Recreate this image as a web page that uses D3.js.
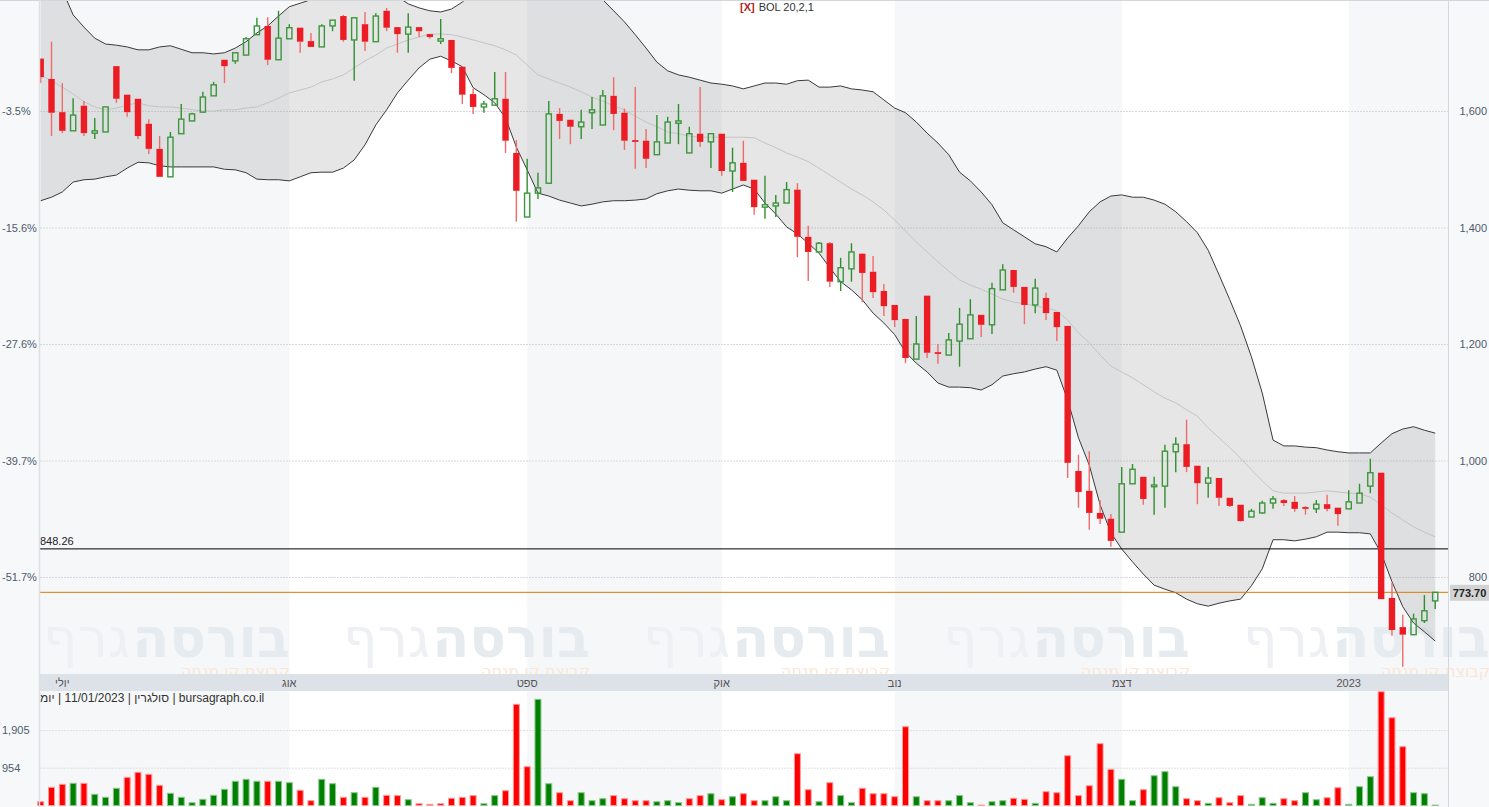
<!DOCTYPE html>
<html>
<head>
<meta charset="utf-8">
<script src="https://cdn.jsdelivr.net/npm/d3@7"></script>
<style>
  body { margin: 0; background: #fff; }
  svg { display: block; font-family: "Liberation Sans", Arial, "DejaVu Sans", sans-serif; }
</style>
</head>
<body>
<svg id="chart" width="1489" height="807"></svg>
<script>
// daily candles, 29/06/2022 .. 11/01/2023
const opens = [1690,1655,1598,1566,1609,1562,1564,1677,1628,1621,1578,1535,1487,1561,1583,1598,1626,1688,1686,1696,
  1731,1746,1688,1724,1743,1720,1710,1746,1763,1722,1749,1719,1772,1744,1732,1744,1732,1720,1722,1676,
  1629,1607,1610,1621,1528,1418,1459,1476,1595,1585,1573,1597,1576,1626,1597,1550,1549,1525,1545,1579,
  1528,1561,1547,1561,1497,1511,1482,1435,1437,1442,1465,1384,1358,1373,1307,1329,1355,1324,1291,1267,
  1243,1174,1283,1186,1181,1205,1209,1250,1233,1293,1327,1298,1267,1279,1255,1231,982,948,910,900,
  877,960,972,955,956,1015,1028,991,961,970,936,924,903,910,927,932,929,920,917,925,
  919,917,927,956,979,764,714,701,725,759];
const highs = [1690,1719,1648,1622,1617,1588,1607,1677,1628,1621,1586,1557,1564,1612,1597,1633,1650,1688,1701,1727,
  1760,1761,1772,1749,1743,1734,1749,1756,1765,1760,1770,1768,1777,1744,1768,1744,1732,1758,1722,1676,
  1638,1617,1667,1667,1550,1518,1494,1617,1605,1585,1602,1624,1636,1658,1604,1641,1569,1593,1590,1612,
  1573,1641,1561,1561,1537,1549,1482,1489,1456,1478,1476,1403,1375,1375,1348,1373,1356,1351,1303,1267,
  1243,1248,1283,1200,1219,1262,1277,1250,1305,1337,1327,1298,1312,1288,1255,1231,1010,1016,932,908,
  989,994,972,972,1027,1040,1070,991,989,970,936,924,917,931,939,934,939,922,932,941,
  919,949,960,1003,979,790,735,737,769,774];
const lows = [1648,1557,1562,1566,1557,1552,1564,1614,1590,1552,1526,1487,1487,1561,1583,1598,1626,1648,1681,1696,
  1731,1679,1688,1724,1700,1710,1710,1737,1719,1652,1703,1719,1737,1700,1700,1727,1724,1715,1665,1612,
  1595,1597,1610,1528,1410,1418,1449,1476,1552,1543,1552,1569,1576,1567,1533,1501,1502,1525,1545,1543,
  1528,1538,1502,1489,1461,1480,1422,1415,1418,1442,1349,1308,1358,1298,1291,1307,1272,1279,1248,1229,
  1167,1174,1176,1166,1181,1161,1209,1212,1217,1293,1288,1234,1253,1241,1205,970,919,881,891,852,
  877,960,924,907,919,980,980,925,936,922,920,895,903,908,917,922,912,907,910,913,
  888,917,927,944,762,699,646,701,721,745];
const closes = [1658,1597,1566,1593,1562,1566,1607,1621,1598,1557,1535,1487,1555,1586,1595,1624,1645,1677,1700,1724,
  1746,1688,1725,1743,1719,1710,1746,1756,1722,1760,1719,1763,1743,1732,1744,1737,1727,1724,1674,1628,
  1607,1612,1621,1549,1463,1459,1468,1595,1583,1573,1581,1602,1626,1595,1549,1547,1518,1547,1581,1583,
  1561,1547,1561,1497,1511,1480,1435,1439,1442,1465,1384,1358,1373,1307,1331,1358,1322,1289,1265,1241,
  1176,1200,1185,1183,1207,1234,1250,1233,1295,1327,1298,1267,1296,1253,1229,996,946,910,900,862,
  960,985,934,958,1016,1028,989,961,970,936,922,896,913,927,934,927,917,917,925,917,
  908,929,944,979,762,709,701,728,742,773.7];
const volumes = [96,459,535,560,560,283,207,434,711,838,787,510,308,207,71,156,257,409,611,661,
  611,611,611,576,384,121,661,550,207,323,207,459,257,250,146,45,30,45,182,207,
  250,45,250,374,2553,979,2679,550,323,121,323,121,172,250,172,121,121,96,121,71,
  172,250,298,146,222,298,121,121,222,121,1307,399,96,576,250,71,434,298,298,222,
  1988,222,121,121,121,250,71,10,96,121,182,156,55,349,323,1257,250,500,1560,913,
  661,121,399,752,853,474,172,121,55,197,71,250,30,197,55,172,121,323,146,197,
  449,30,474,727,2871,2215,1484,323,298,10];

// BOL 20,2,1
const bolUpper = [1876,1842,1808,1765,1744,1725,1715,1713,1710,1705,1705,1710,1712,1706,1700,1700,1698,1700,1708,1719,
  1734,1746,1763,1779,1785,1791,1801,1815,1822,1832,1830,1815,1808,1796,1784,1777,1772,1770,1775,1787,
  1804,1806,1806,1816,1846,1854,1864,1856,1849,1840,1828,1808,1791,1772,1753,1731,1708,1684,1669,1662,
  1658,1653,1648,1646,1643,1638,1643,1648,1648,1646,1652,1653,1641,1641,1643,1638,1636,1633,1619,1605,
  1597,1581,1562,1545,1525,1495,1480,1461,1439,1408,1396,1384,1372,1367,1358,1382,1403,1427,1444,1454,
  1456,1452,1452,1447,1440,1427,1410,1391,1361,1319,1276,1231,1178,1116,1035,1025,1025,1023,1022,1018,
  1015,1013,1013,1013,1030,1046,1054,1058,1052,1047];
const bolMid = [1662,1652,1641,1629,1616,1607,1602,1605,1610,1614,1609,1607,1607,1605,1602,1600,1600,1602,1602,1605,
  1607,1614,1622,1631,1636,1641,1650,1655,1662,1674,1686,1696,1708,1715,1722,1727,1732,1732,1731,1727,
  1722,1717,1712,1705,1696,1679,1662,1655,1648,1641,1633,1624,1617,1609,1602,1591,1581,1573,1564,1561,
  1557,1555,1555,1555,1555,1555,1554,1545,1537,1528,1521,1513,1502,1490,1478,1466,1456,1444,1430,1413,
  1394,1375,1358,1341,1325,1310,1301,1294,1286,1277,1272,1269,1265,1262,1257,1241,1219,1202,1181,1162,
  1152,1142,1130,1118,1107,1099,1087,1076,1056,1039,1022,1004,984,965,948,944,944,944,946,948,
  946,944,943,937,924,910,898,886,877,869];
const bolLower = [1446,1452,1461,1478,1482,1483,1487,1490,1502,1512,1511,1506,1504,1504,1504,1504,1504,1500,1499,1494,
  1483,1482,1482,1480,1487,1494,1495,1495,1502,1516,1542,1576,1602,1631,1653,1674,1689,1694,1686,1676,
  1640,1628,1614,1588,1538,1499,1459,1454,1447,1442,1437,1440,1444,1446,1446,1447,1449,1458,1463,1466,
  1464,1463,1463,1459,1466,1473,1466,1442,1423,1401,1389,1373,1356,1331,1307,1293,1276,1253,1236,1216,
  1186,1167,1152,1133,1126,1126,1125,1121,1130,1145,1149,1152,1157,1161,1155,1104,1039,992,924,876,
  848,826,805,786,779,773,762,754,750,755,759,762,785,814,864,864,862,865,869,877,
  877,876,876,874,841,792,749,721,706,690];

const monthStart = [2, 23, 45, 63, 79, 100, 121];
const monthLabels = ['יולי', 'אוג', 'ספט', 'אוק', 'נוב', 'דצמ', '2023'];
const priceTicks = [800, 1000, 1200, 1400, 1600];
const pctLabels = ['-51.7%', '-39.7%', '-27.6%', '-15.6%', '-3.5%'];
const volTicks = [954, 1905];
const levelLine = 848.26;
const lastPrice = 773.70;

const left = 40, right = 1448;
const priceBottom = 674, axisBottom = 691, volBottom = 807;

const svg = d3.select('#chart');
const n = closes.length;

const x = d3.scaleLinear().domain([0, n - 1]).range([40.7, 1435.2]);
const y = d3.scaleLinear().domain([600, 1800]).range([693.5, -5.5]);
const yv = d3.scaleLinear().domain([0, 1905]).range([805.5, 730]);

// backgrounds
svg.append('rect').attr('width', 1489).attr('height', 807).attr('fill', '#fff');
svg.append('rect').attr('x', 0).attr('width', left).attr('height', 807).attr('fill', '#f7f8fa');
svg.append('rect').attr('x', right).attr('width', 1489 - right).attr('height', 807).attr('fill', '#f7f8fa');

var edges = [left].concat(monthStart.slice(1).map(i => x(i))).concat([right]);
var bands = [];
for (var k = 0; k < edges.length - 1; k += 2) bands.push([edges[k], edges[k + 1]]);
svg.selectAll('rect.band')
  .data(bands)
  .enter()
  .append('rect')
  .attr('class', 'band')
  .attr('x', d => d[0])
  .attr('y', 0)
  .attr('width', d => d[1] - d[0])
  .attr('height', volBottom)
  .attr('fill', '#f6f7f9');

// watermark
var wm = svg.append('g').attr('class', 'watermark');
[290, 590, 890, 1190, 1490].forEach(function (xr) {
  var big = wm.append('text')
    .attr('x', xr).attr('y', 657)
    .attr('text-anchor', 'end')
    .style('font-family', '"DejaVu Sans", sans-serif')
    .style('font-size', '54px')
    .style('font-weight', 'bold')
    .attr('fill', '#e6ebef')
    .text('בורסה');
  var bw = big.node().getComputedTextLength();
  wm.append('text')
    .attr('x', xr - bw - 2).attr('y', 657)
    .attr('text-anchor', 'end')
    .style('font-family', '"DejaVu Sans", sans-serif')
    .style('font-size', '54px')
    .attr('fill', '#eef0f3')
    .text('גרף');
  wm.append('text')
    .attr('x', xr).attr('y', 677)
    .attr('text-anchor', 'end')
    .style('font-family', '"DejaVu Sans", sans-serif')
    .style('font-size', '16px')
    .attr('fill', '#fce6d5')
    .text('קבוצת קו מנחה');
});

// grid
svg.selectAll('line.grid')
  .data(priceTicks)
  .enter()
  .append('line')
  .attr('x1', left).attr('x2', right)
  .attr('y1', d => y(d) + 0.5).attr('y2', d => y(d) + 0.5)
  .attr('stroke', '#d8d8d8')
  .attr('stroke-dasharray', '2,1');
svg.selectAll('line.vgrid')
  .data(volTicks)
  .enter()
  .append('line')
  .attr('x1', left).attr('x2', right)
  .attr('y1', d => yv(d) + 0.5).attr('y2', d => yv(d) + 0.5)
  .attr('stroke', '#e0e0e0')
  .attr('stroke-dasharray', '2,1');

// price pane
svg.append('clipPath').attr('id', 'pclip')
  .append('rect').attr('x', left).attr('y', 0).attr('width', right - left).attr('height', priceBottom);
var pane = svg.append('g').attr('clip-path', 'url(#pclip)');

const idx = d3.range(n);
pane.append('path')
  .datum(idx)
  .attr('d', d3.area().x(i => x(i)).y0(i => y(bolLower[i])).y1(i => y(bolUpper[i])))
  .attr('fill', 'rgba(128,128,132,0.2)');
pane.append('path')
  .datum(idx)
  .attr('d', d3.line().x(i => x(i)).y(i => y(bolMid[i])))
  .attr('fill', 'none').attr('stroke', '#c4c4c4').attr('stroke-width', 1);
[bolUpper, bolLower].forEach(function (s) {
  pane.append('path')
    .datum(idx)
    .attr('d', d3.line().x(i => x(i)).y(i => y(s[i])))
    .attr('fill', 'none').attr('stroke', '#3a3a3a').attr('stroke-width', 1);
});

pane.append('line')
  .attr('x1', left).attr('x2', right)
  .attr('y1', y(levelLine)).attr('y2', y(levelLine))
  .attr('stroke', '#000').attr('stroke-width', 1);
pane.append('line')
  .attr('x1', left).attr('x2', right)
  .attr('y1', y(lastPrice)).attr('y2', y(lastPrice))
  .attr('stroke', '#e07800').attr('stroke-width', 1);
svg.append('text')
  .attr('x', 40).attr('y', 545)
  .style('font-size', '11px').attr('fill', '#222')
  .text(levelLine.toFixed(2));

// candles
const up = i => closes[i] >= opens[i];
var candle = pane.selectAll('g.candle')
  .data(idx)
  .enter()
  .append('g')
  .attr('class', 'candle');
candle.append('line')
  .attr('x1', i => x(i)).attr('x2', i => x(i))
  .attr('y1', i => y(highs[i]))
  .attr('y2', i => y(Math.max(opens[i], closes[i])))
  .attr('stroke', i => up(i) ? '#2f8f2f' : '#f06a6a')
  .attr('stroke-width', 1.4);
candle.append('line')
  .attr('x1', i => x(i)).attr('x2', i => x(i))
  .attr('y1', i => y(Math.min(opens[i], closes[i])))
  .attr('y2', i => y(lows[i]))
  .attr('stroke', i => up(i) ? '#2f8f2f' : '#f06a6a')
  .attr('stroke-width', 1.4);
candle.append('rect')
  .attr('x', i => x(i) - (up(i) ? 2.6 : 3.2))
  .attr('y', i => y(Math.max(opens[i], closes[i])))
  .attr('width', i => up(i) ? 5.2 : 6.4)
  .attr('height', i => Math.max(1.5, y(Math.min(opens[i], closes[i])) - y(Math.max(opens[i], closes[i]))))
  .attr('fill', i => up(i) ? 'none' : '#ec1c24')
  .attr('stroke', i => up(i) ? '#3d963d' : 'none')
  .attr('stroke-width', 1.4);

// volume
var volUp = i => i === 0 ? closes[0] >= opens[0] : closes[i] >= closes[i - 1];
svg.selectAll('rect.vol')
  .data(idx)
  .enter()
  .append('rect')
  .attr('class', 'vol')
  .attr('x', i => x(i) - 3)
  .attr('y', i => yv(volumes[i]))
  .attr('width', 6)
  .attr('height', i => yv(0) - yv(volumes[i]))
  .attr('fill', i => volUp(i) ? '#008000' : '#ff0000')
  .attr('stroke', i => volUp(i) ? '#8cc78c' : '#ff9c9c')
  .attr('stroke-width', 1);

// month axis
svg.append('rect')
  .attr('x', left).attr('y', priceBottom)
  .attr('width', right - left).attr('height', axisBottom - priceBottom)
  .attr('fill', '#dde1e8');
svg.selectAll('text.month')
  .data(monthStart)
  .enter()
  .append('text')
  .attr('class', 'month')
  .attr('x', i => x(i))
  .attr('y', 687)
  .attr('text-anchor', 'middle')
  .style('font-size', '11px')
  .attr('fill', '#555')
  .text((d, k) => monthLabels[k]);

// footer, LRM marks keep the parts in this visual order
svg.append('clipPath').attr('id', 'fclip')
  .append('rect').attr('x', left).attr('y', axisBottom).attr('width', 400).attr('height', 20);
svg.append('text')
  .attr('clip-path', 'url(#fclip)')
  .attr('x', 37).attr('y', 702)
  .style('font-size', '12px')
  .attr('fill', '#333')
  .text('יומי\u200E | 11/01/2023 | סולגרין\u200E | bursagraph.co.il');

// axes
var rightAxis = svg.append('g')
  .attr('transform', 'translate(1487,0)')
  .call(d3.axisLeft(y).tickValues(priceTicks).tickFormat(d3.format(',')).tickSize(0).tickPadding(0));
var pctAxis = svg.append('g')
  .attr('transform', 'translate(2,0)')
  .call(d3.axisRight(y).tickValues(priceTicks).tickFormat((d, k) => pctLabels[k]).tickSize(0).tickPadding(0));
var volAxis = svg.append('g')
  .attr('transform', 'translate(2,0)')
  .call(d3.axisRight(yv).tickValues(volTicks).tickFormat(d3.format(',')).tickSize(0).tickPadding(0));
[rightAxis, pctAxis, volAxis].forEach(function (a) {
  a.select('.domain').remove();
  a.selectAll('text')
    .style('font-family', '"Liberation Sans", Arial, sans-serif')
    .style('font-size', '11px')
    .attr('fill', '#4e5a6c');
});

// last price box
svg.append('rect')
  .attr('x', 1450).attr('y', y(lastPrice) - 7.5)
  .attr('width', 39).attr('height', 16)
  .attr('fill', '#d3d3d3');
svg.append('text')
  .attr('x', 1469.5).attr('y', y(lastPrice) + 4.5)
  .attr('text-anchor', 'middle')
  .style('font-size', '11px').style('font-weight', 'bold')
  .attr('fill', '#222')
  .text(lastPrice.toFixed(2));

// frame
svg.append('line').attr('x1', 0).attr('x2', 1489).attr('y1', 0.5).attr('y2', 0.5).attr('stroke', '#d3d7dd');
svg.append('line').attr('x1', left - 0.5).attr('x2', left - 0.5).attr('y1', 0).attr('y2', 807).attr('stroke', '#dcdfe4').attr('stroke-width', 1.5);
svg.append('line').attr('x1', right + 0.5).attr('x2', right + 0.5).attr('y1', 0).attr('y2', 807).attr('stroke', '#d5d9de');

// indicator label
var bol = svg.append('text').attr('x', 740).attr('y', 11).style('font-size', '11px');
bol.append('tspan').attr('fill', '#b41e1e').style('font-weight', 'bold').text('[X]');
bol.append('tspan').attr('fill', '#333').attr('dx', 4).text('BOL 20,2,1');
</script>
</body>
</html>
